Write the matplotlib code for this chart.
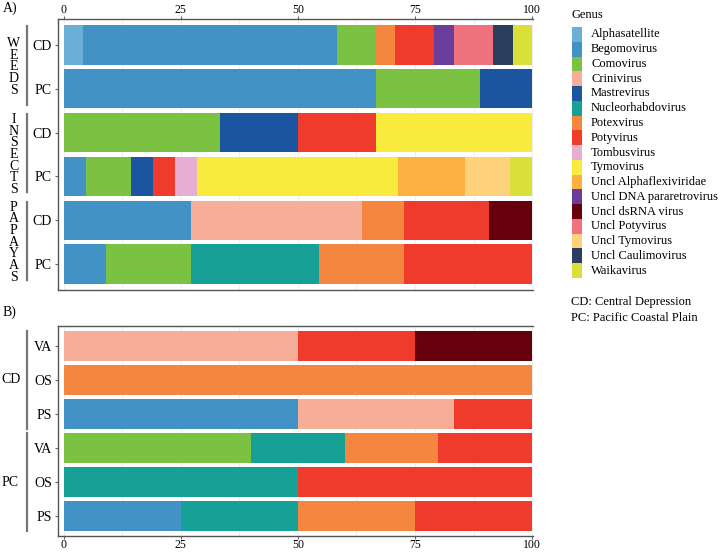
import matplotlib
matplotlib.use('Agg')
import matplotlib.pyplot as plt
from matplotlib.transforms import offset_copy

plt.rcParams['font.family'] = ['Liberation Serif', 'DejaVu Serif']

# Generos e cores
genus = ['Alphasatellite', 'Begomovirus', 'Comovirus', 'Crinivirus', 'Mastrevirus',
         'Nucleorhabdovirus', 'Potexvirus', 'Potyvirus', 'Tombusvirus', 'Tymovirus',
         'Uncl Alphaflexiviridae', 'Uncl DNA pararetrovirus', 'Uncl dsRNA virus',
         'Uncl Potyvirus', 'Uncl Tymovirus', 'Uncl Caulimovirus', 'Waikavirus']
colors = ['#6baed6', '#4292c6', '#7bc142', '#f7ae99', '#1b55a0',
          '#17a095', '#f4863f', '#ef3b2c', '#e7aed2', '#f9ea3e',
          '#fbb040', '#6a3d9a', '#67000d', '#f0727f', '#fdd27a',
          '#2c3e60', '#d9e03a']

# Painel A: WEEDS CD, WEEDS PC, INSECTS CD, INSECTS PC, PAPAYAS CD, PAPAYAS PC
a_rows = ['CD', 'PC', 'CD', 'PC', 'CD', 'PC']
a_groups = ['WEEDS', 'INSECTS', 'PAPAYAS']
a_alphasatellite = [4.17, 0, 0, 0, 0, 0]
a_begomovirus = [54.17, 66.67, 0, 4.76, 27.27, 9.09]
a_comovirus = [8.33, 22.22, 33.33, 9.52, 0, 18.18]
a_crinivirus = [0, 0, 0, 0, 36.36, 0]
a_mastrevirus = [0, 11.11, 16.67, 4.76, 0, 0]
a_nucleorhabdovirus = [0, 0, 0, 0, 0, 27.27]
a_potexvirus = [4.17, 0, 0, 0, 9.09, 18.18]
a_potyvirus = [8.33, 0, 16.67, 4.76, 18.18, 27.27]
a_tombusvirus = [0, 0, 0, 4.76, 0, 0]
a_tymovirus = [0, 0, 33.33, 42.86, 0, 0]
a_uncl_alphaflex = [0, 0, 0, 14.29, 0, 0]
a_uncl_dna = [4.17, 0, 0, 0, 0, 0]
a_uncl_dsrna = [0, 0, 0, 0, 9.09, 0]
a_uncl_potyvirus = [8.33, 0, 0, 0, 0, 0]
a_uncl_tymovirus = [0, 0, 0, 9.52, 0, 0]
a_uncl_caulimovirus = [4.17, 0, 0, 0, 0, 0]
a_waikavirus = [4.17, 0, 0, 4.76, 0, 0]

# Painel B: CD VA, CD OS, CD PS, PC VA, PC OS, PC PS
b_rows = ['VA', 'OS', 'PS', 'VA', 'OS', 'PS']
b_groups = ['CD', 'PC']
b_begomovirus = [0, 0, 50, 0, 0, 25]
b_comovirus = [0, 0, 0, 40, 0, 0]
b_crinivirus = [50, 0, 33.33, 0, 0, 0]
b_nucleorhabdovirus = [0, 0, 0, 20, 50, 25]
b_potexvirus = [0, 100, 0, 20, 0, 25]
b_potyvirus = [25, 0, 16.67, 20, 50, 25]
b_uncl_dsrna = [25, 0, 0, 0, 0, 0]

a_data = dict(zip(genus, [a_alphasatellite, a_begomovirus, a_comovirus, a_crinivirus,
                          a_mastrevirus, a_nucleorhabdovirus, a_potexvirus, a_potyvirus,
                          a_tombusvirus, a_tymovirus, a_uncl_alphaflex, a_uncl_dna,
                          a_uncl_dsrna, a_uncl_potyvirus, a_uncl_tymovirus,
                          a_uncl_caulimovirus, a_waikavirus]))
b_data = {'Begomovirus': b_begomovirus, 'Comovirus': b_comovirus,
          'Crinivirus': b_crinivirus, 'Nucleorhabdovirus': b_nucleorhabdovirus,
          'Potexvirus': b_potexvirus, 'Potyvirus': b_potyvirus,
          'Uncl dsRNA virus': b_uncl_dsrna}
cmap = dict(zip(genus, colors))

fig = plt.figure(figsize=(7.2, 5.52), dpi=100)
ax_a = fig.add_axes([58 / 720, 1 - 290 / 552, 475 / 720, 271 / 552])
ax_b = fig.add_axes([58 / 720, 1 - 536 / 552, 475 / 720, 210 / 552])
ax_leg = fig.add_axes([572 / 720, 1 - 278 / 552, 148 / 720, 251 / 552])


def stacked(ax, rows, data, pad):
    pos = list(range(len(rows)))
    left = [0] * len(rows)
    for g in genus:
        if g not in data:
            continue
        vals = data[g]
        ax.barh(pos, vals, left=left, height=0.9, color=cmap[g], edgecolor='none', zorder=2)
        left = [l + v for l, v in zip(left, vals)]
    ax.set_xlim(-1.2, 100.2)
    ax.set_ylim(len(rows) - 1 + pad, -pad)
    ax.set_yticks(pos)
    ax.set_yticklabels(rows)
    ax.set_xticks([0, 25, 50, 75, 100])
    ax.set_xticks([12.5, 37.5, 62.5, 87.5], minor=True)
    ax.grid(axis='x', which='both', color='#ebebeb', lw=0.6, zorder=0)
    ax.tick_params(axis='x', which='minor', length=0)
    ax.tick_params(axis='both', which='major', length=2.5, color='#666666')
    ax.tick_params(axis='x', labelsize=8.5, pad=0)
    ax.tick_params(axis='y', labelsize=10, pad=2)
    for s in ['left', 'top', 'bottom']:
        ax.spines[s].set_color('#555555')
        ax.spines[s].set_linewidth(1.0)
    ax.spines['right'].set_visible(False)


stacked(ax_a, a_rows, a_data, 0.59)
ax_a.xaxis.tick_top()
stacked(ax_b, b_rows, b_data, 0.585)

# rotulos dos grupos (painel A): letras empilhadas
ytr = ax_a.get_yaxis_transform()
for i, grp in enumerate(a_groups):
    c = 2 * i + 0.5
    n = len(grp)
    for k, ch in enumerate(grp):
        tr = offset_copy(ytr, fig=fig, x=0, y=-(k - (n - 1) / 2) * 11.7, units='dots')
        ax_a.text(-0.093, c, ch, transform=tr, ha='center', va='center', fontsize=10)
    ax_a.plot([-0.065, -0.065], [c - 0.92, c + 0.86], transform=ytr, color='#777777',
              lw=1.6, clip_on=False)

ytr = ax_b.get_yaxis_transform()
for i, grp in enumerate(b_groups):
    c = 3 * i + 1
    ax_b.text(-0.1, c, grp, transform=ytr, ha='center', va='center', fontsize=10)
    ax_b.plot([-0.065, -0.065], [c - 1.44, c + 1.44], transform=ytr, color='#777777',
              lw=1.6, clip_on=False)

fig.text(3 / 720, 1 - 8 / 552, 'A)', fontsize=10, va='center')
fig.text(3 / 720, 1 - 312 / 552, 'B)', fontsize=10, va='center')

# legenda
ax_leg.barh(range(len(genus)), [10] * len(genus), height=1.0, color=colors,
            edgecolor='none')
for i, g in enumerate(genus):
    ax_leg.text(19, i, g, fontsize=9, va='center', ha='left')
ax_leg.set_xlim(0, 148)
ax_leg.set_ylim(len(genus) - 0.5, -0.5)
ax_leg.axis('off')

fig.text(572 / 720, 1 - 15 / 552, 'Genus', fontsize=9, va='center')
fig.text(571 / 720, 1 - 302 / 552, 'CD: Central Depression', fontsize=9, va='center')
fig.text(571 / 720, 1 - 318 / 552, 'PC: Pacific Coastal Plain', fontsize=9, va='center')

plt.savefig('out.png', dpi=100)
